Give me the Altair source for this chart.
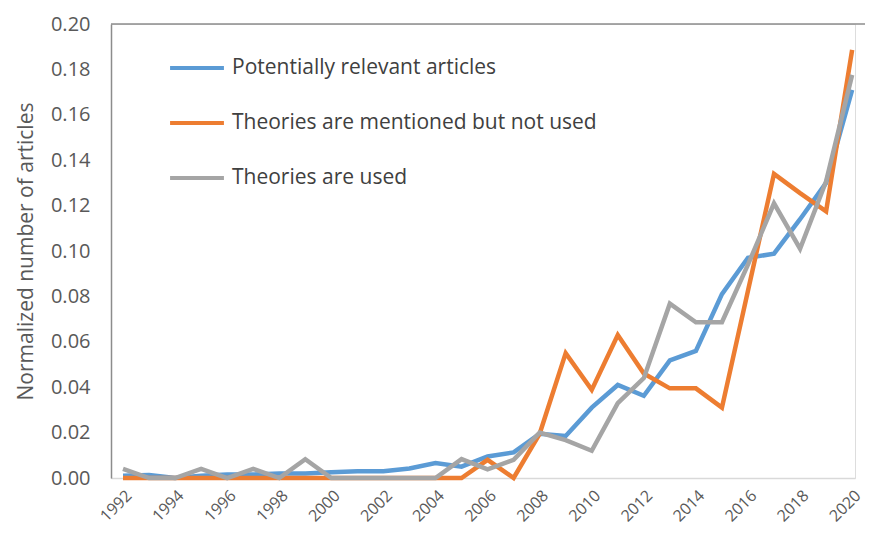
import altair as alt
import pandas as pd

years = list(range(1992, 2021))
series_names = ["Potentially relevant articles", "Theories are mentioned but not used", "Theories are used"]

relevant = [0.001, 0.0013, 0.0, 0.001, 0.0015, 0.0015, 0.002, 0.002, 0.0025, 0.003,
            0.003, 0.0042, 0.0066, 0.005, 0.0095, 0.0113, 0.0195, 0.0185, 0.031, 0.041,
            0.0362, 0.0518, 0.056, 0.081, 0.097, 0.0988, 0.114, 0.13, 0.171]
mentioned = [0.0, 0.0, 0.0, 0.0, 0.0, 0.0, 0.0, 0.0, 0.0, 0.0,
             0.0, 0.0, 0.0, 0.0, 0.008, 0.0, 0.0195, 0.055, 0.0388, 0.063,
             0.046, 0.0395, 0.0395, 0.031, 0.0825, 0.134, 0.1255, 0.1175, 0.1886]
used = [0.004, 0.0, 0.0, 0.004, 0.0, 0.004, 0.0, 0.0083, 0.0, 0.0,
        0.0, 0.0, 0.0, 0.0083, 0.0038, 0.008, 0.020, 0.0167, 0.012, 0.033,
        0.044, 0.0768, 0.0686, 0.0686, 0.094, 0.121, 0.101, 0.1307, 0.1776]

colors = ["#5B9BD5", "#ED7D31", "#A5A5A5"]
year_ticks = list(range(1992, 2021, 2))
y_ticks = [0.0, 0.02, 0.04, 0.06, 0.08, 0.10, 0.12, 0.14, 0.16, 0.18, 0.20]

rows = []
for name, vals in zip(series_names, [relevant, mentioned, used]):
    for yr, v in zip(years, vals):
        rows.append({"year": yr, "value": v, "series": name})
df = pd.DataFrame(rows)

W, H = 744, 454
RIGHT = 10
FONT = "Open Sans"

lines = alt.Chart(df).mark_line(strokeWidth=4.5, strokeJoin="miter").encode(
    x=alt.X("year:Q",
            scale=alt.Scale(domain=[1991.539, 2020.11], nice=False, zero=False),
            axis=alt.Axis(values=year_ticks, format="d", labelAngle=-45, labelFontSize=16,
                          labelColor="#595959", labelFont=FONT, grid=False, ticks=False,
                          domainColor="#D9D9D9", domainWidth=1.5, labelPadding=9, title=None)),
    y=alt.Y("value:Q",
            scale=alt.Scale(domain=[0, 0.2], nice=False),
            axis=alt.Axis(values=y_ticks, format=".2f", labelFontSize=20, labelColor="#595959",
                          labelFont=FONT, grid=False, ticks=False, domainColor="#8C8C8C",
                          domainWidth=1.5, labelPadding=21,
                          title="Normalized number of articles", titleFontSize=21,
                          titleFont=FONT, titleColor="#595959", titleFontWeight="normal",
                          titlePadding=14)),
    color=alt.Color("series:N",
                    scale=alt.Scale(domain=series_names, range=colors),
                    sort=series_names,
                    legend=alt.Legend(orient="none", legendX=57, legendY=15, title=None,
                                      symbolType="stroke", symbolSize=2900, symbolStrokeWidth=4,
                                      labelFontSize=21, labelFont=FONT, labelColor="#404040",
                                      labelOffset=6, rowPadding=16, labelLimit=600)),
    order=alt.Order("year:Q"),
)

top_border = alt.Chart(pd.DataFrame({"v": [0.2]})).mark_rule(color="#8C8C8C", strokeWidth=1.5).encode(
    y="v:Q", x=alt.value(0), x2=alt.value(W + RIGHT)
)

chart = alt.layer(lines, top_border).properties(
    width=W, height=H,
    autosize=alt.AutoSizeParams(type="none"),
    padding={"left": 103, "top": 16, "right": RIGHT, "bottom": 55},
).configure_view(stroke=None).configure(background="white")

chart.save("out.html", embed_options={"renderer": "svg", "actions": False})
